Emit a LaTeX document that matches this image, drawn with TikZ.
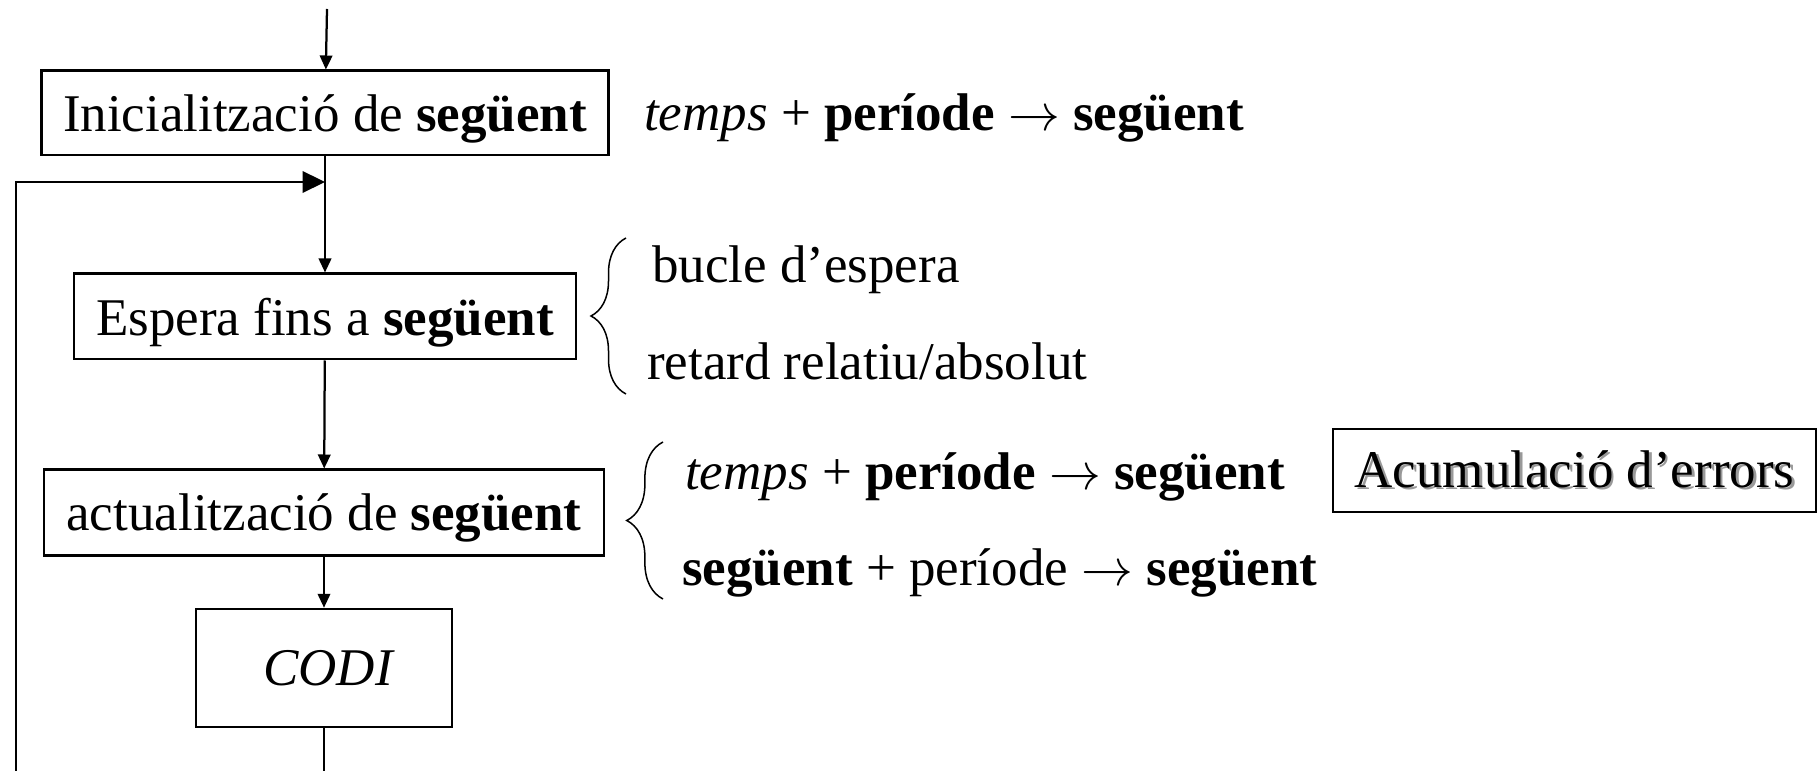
\documentclass[tikz,border=0pt]{standalone}
\usepackage{fontspec}
\setmainfont{Liberation Serif}
\usetikzlibrary{arrows.meta,decorations.pathreplacing}
\newcommand{\seg}{\textbf{següent}}
\newcommand{\shadowtxt}[1]{\makebox[0pt][l]{\raisebox{-1pt}{\hspace{1pt}\textcolor{black!40}{#1}}}#1}

\begin{document}
\begin{tikzpicture}[x=0.4pt, y=-0.4pt, line width=0.9pt,
  every node/.style={font=\fontsize{21.2}{25}\selectfont},
  box/.style={draw, inner sep=0pt},
  step box/.style={box, text depth=0pt},
  txt/.style={anchor=base west, inner sep=0pt},
  flow/.style={-{Triangle[length=5.6pt,width=5pt]}},
  back/.style={-{Triangle[length=9pt,width=8.6pt]}},
  curly/.style={decorate, line width=0.6pt, decoration={brace, amplitude=#1}}]
  \useasboundingbox (0,0) rectangle (1818,771);
  % boxes of the loop
  \node[step box, minimum width=226.8pt, minimum height=33.9pt] (init) at (325,113) {Inicialització de \seg};
  \node[step box, minimum width=200.8pt, minimum height=34.3pt] (wait) at (325,316.5) {Espera fins a \seg};
  \node[step box, minimum width=224pt, minimum height=34.3pt] (update) at (324,512.5) {actualització de \seg};
  \node[box, minimum width=102.4pt, minimum height=47.3pt] (codi) at (324,668) {\hspace{4pt}\textit{CODI}};
  \node[box, minimum width=193pt, minimum height=33.2pt] (acum) at (1574.5,470.5) {\shadowtxt{Acumulació d’errors}};
  % notes
  \node[txt] (t1) at (643,131) {\textit{temps} + \textbf{període} $\rightarrow$ \seg};
  \node[txt] (t2) at (651,283) {bucle d’espera};
  \node[txt] (t3) at (646,380) {retard relatiu/absolut};
  \node[txt] (t4) at (684,489) {\textit{temps} + \textbf{període} $\rightarrow$ \seg};
  \node[txt] (t5) at (681,585) {\seg{} + període $\rightarrow$ \seg};
  % braces
  \draw[curly=14pt] (626,394) -- (626,238);
  \draw[curly=14.5pt] (663,599) -- (663,442);
  % free ends
  \coordinate (start) at (327,9);
  \coordinate (fb) at (init.south |- 0,182);
  \coordinate (low) at (codi.south |- 0,771);
  \coordinate (left) at (16,771);
  % connectors
  \draw[flow] (start) -- (init);
  \draw[flow] (init) -- (wait);
  \draw[flow] (wait) -- (update);
  \draw[flow] (update) -- (codi);
  \draw (codi) -- (low);
  \draw[back] (left) |- (fb);
\end{tikzpicture}
\end{document}
